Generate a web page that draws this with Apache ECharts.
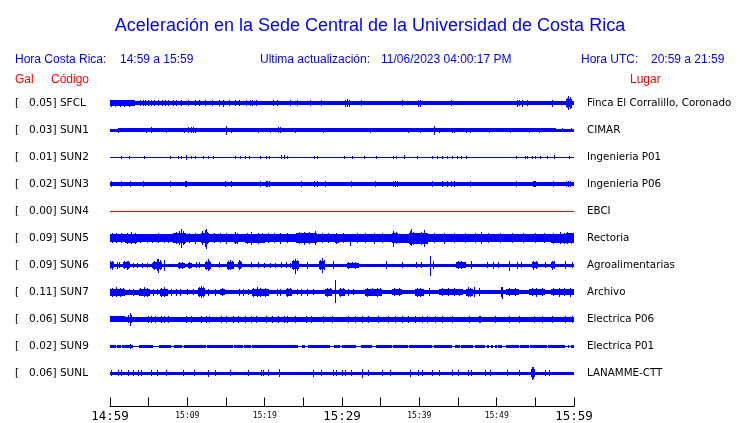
<!DOCTYPE html>
<html><head><meta charset="utf-8">
<script src="https://cdn.jsdelivr.net/npm/echarts@6/dist/echarts.min.js"></script>
<style>html,body{margin:0;padding:0;background:#fff}#c{width:740px;height:423px}</style>
</head><body><div id="c"></div>
<script>
// ---- labels ----
const stationCodes = ['SFCL','SUN1','SUN2','SUN3','SUN4','SUN5','SUN6','SUN7','SUN8','SUN9','SUNL'];
const peakGal = ['0.05','0.03','0.01','0.02','0.00','0.09','0.09','0.11','0.06','0.02','0.06'];
const siteNames = ['Finca El Corralillo, Coronado','CIMAR','Ingenieria P01','Ingenieria P06','EBCI','Rectoria','Agroalimentarias','Archivo','Electrica P06','Electrica P01','LANAMME-CTT'];
const tickLabels = ['14:59','15:04','15:09','15:14','15:19','15:24','15:29','15:34','15:39','15:44','15:49','15:54','15:59'];
const majorTickLabels = ['14:59','15:29','15:59'];
const titleText = 'Aceleración en la Sede Central de la Universidad de Costa Rica';

// ---- traces: bands [startMin, endMin, halfAmp], spikes [min, up, down?] (display units) ----
const sfclBands = [[0,60,2],[0,3.2,3],[59.0,59.8,4]];
const sfclSpikes = [[0.2,3.5],[0.7,3.5],[1.3,3.5],[1.9,3.5],[2.5,3.5],[4.0,3],[4.3,3],[4.6,3],[5.0,3],[5.4,3],[5.8,3],[6.25,3],[6.8,3],[7.2,3],[7.5,3],[8.2,3],[8.6,3],[9.3,3],[10.2,3],[11.0,3],[11.6,3],[12.3,3],[13.2,3],[14.2,3],[14.7,3.5],[15.4,3],[16.2,3],[16.7,3],[17.7,3],[18.2,3],[18.4,3],[19.0,3],[21.2,3],[21.7,3],[23.3,3],[24.2,3],[25.9,3],[27.4,3],[30.4,3.5],[30.65,4],[30.95,3.5],[32.5,3],[37.8,3],[39.9,3.5],[40.2,3.5],[44.1,3],[52.7,3.5],[53.0,3],[53.4,3.5],[54.0,3],[57.2,3.5],[59.1,5],[59.3,7],[59.5,6],[59.7,4.5]];

const sun1Bands = [[0,1.0,1.5],[1.0,57.7,2],[57.7,60,1.5]];
const sun1Spikes = [[1.1,2.5],[4.7,2.5],[5.4,3],[7.3,2.5],[9.6,2.5],[10.2,3],[10.5,3],[10.8,3],[11.1,2.5],[15.1,4.5],[15.7,2.5],[19.2,2.5],[20.7,2.5],[21.8,3],[22.0,3],[24.0,2.5],[27.6,2.5],[33.7,2.5],[38.6,2.5],[40.1,2.5],[42.0,4.5],[42.6,2.5],[44.3,2.5],[44.6,2.5],[46.1,2.5],[46.6,2.5],[49.1,2.5],[51.8,2.5],[54.2,2.5],[55.5,2.5],[57.5,2],[58.5,2],[59.7,2]];

const sun2Bands = [[0,60,0.5]];
const sun2Spikes = [[1.5,1.5],[2.5,1.5],[4.4,1.5],[7.8,1.5],[8.9,1.5],[9.2,1.5],[9.9,2.5],[10.6,1.5],[11.0,1.5],[12.1,1.5],[12.7,1.5],[13.4,1.5],[16.2,1.5],[16.9,1.5],[17.5,1.5],[18.0,1.5],[19.4,1.5],[20.3,1.5],[20.6,1.5],[22.2,2],[22.5,2],[22.9,1.5],[26.4,1.5],[26.8,1.5],[30.35,1.5],[31.3,1.5],[32.9,1.5],[34.5,1.5],[36.7,1.5],[37.0,1.5],[38.1,2],[39.8,1.5],[41.7,1.5],[42.3,1.5],[43.0,1.5],[43.6,1.5],[44.3,1.5],[44.9,1.5],[45.5,1.5],[46.1,1.5],[52.55,1.5],[53.7,1.5],[54.0,1.5],[54.6,1.5],[55.05,1.5],[55.7,1.5],[56.55,1.5],[57.5,2],[59.4,1.5]];

const sun3Bands = [[0,60,2]];
const sun3Spikes = [[0.2,3],[1.5,3],[2.6,3],[4.3,3],[7.8,3],[9.7,3],[9.9,3],[14.9,3],[15.7,3],[19.4,3],[20.2,3],[20.4,3],[20.6,3],[24.8,3],[26.5,3],[26.8,3],[27.9,3],[31.2,3],[34.3,3],[36.6,3],[36.9,3],[37.2,3],[41.7,3],[43.0,3],[43.6,3],[44.1,3],[44.5,3],[46.6,3],[52.55,3],[54.7,3],[54.9,3],[55.05,3],[57.4,3],[59.0,3],[59.3,3],[59.6,3]];

const sun4Bands = [[0,60,0.5]];
const sun4Spikes = [];

const sun5Bands = [[0,60,3.5],[0,2,4],[2,3.5,4.5],[3.5,8.2,4],[8.2,9.8,5],[9.8,11.8,4],[11.8,12.8,5],[12.8,16,4],[16,16.6,4.5],[16.6,17.5,4],[17.5,20,4.5],[20,24,4],[24,26.8,5],[26.8,29.1,4],[29.1,29.6,4.5],[29.6,36.5,4],[36.5,37.3,5],[37.3,38.6,4.5],[38.6,39.5,5.5],[39.5,41.1,5.5],[41.1,57,4],[57,59,4.5],[59,60,5]];
const sun5Spikes = [[0.3,5],[0.9,5],[1.5,5],[2.2,5.5],[2.8,6],[3.3,5.5],[4.0,4.5],[4.8,4.5],[5.5,4.5],[6.3,5],[7.0,4.5],[7.6,4.5],[8.6,6],[9.0,7],[9.27,9,10],[9.45,7],[9.6,5.5],[10.3,5],[11.0,5.5],[12.0,7],[12.3,8,9],[12.45,9,11],[12.6,6],[13.5,5],[14.3,5],[15.0,5.5],[16.2,6],[16.5,5.5],[17.8,5.5],[18.3,6.5],[19.2,5.5],[19.7,5],[20.5,5],[21.3,5],[22.0,5.5],[23.0,5],[24.5,6],[25.2,6.5],[25.8,6],[26.6,7],[27.5,5],[28.3,5],[29.3,5.5],[30.2,5],[31.1,4.5,7.5],[32.0,5],[33.0,5],[34.2,5.5],[35.3,5],[36.7,7,9],[37.0,6],[38.8,7],[39.05,9,8],[39.3,6.5],[40.3,6.5],[40.7,8,9],[42.0,5],[43.2,5.5],[44.5,5],[46.0,5],[47.2,5],[48.0,6],[49.0,5],[50.5,5],[52.0,5],[53.5,5],[55.0,5],[56.2,5],[57.4,5.5],[58.2,6],[58.8,5.5],[59.2,6],[59.7,5.5]];

const sun6Bands = [[0,60,1.5],[0,0.5,3],[1.7,2.6,3],[5.6,6.7,3.5],[8.8,9.7,2.5],[10.1,10.6,2.5],[12.3,13.1,3.5],[15.1,16.0,3.5],[16.6,17.1,3],[23.5,24.4,4],[27.0,27.8,4],[30.6,32.2,2.5],[44.7,46.0,3],[54.6,55.3,3],[57.0,57.6,3]];
const sun6Spikes = [[0.1,4],[0.3,4.5],[1.0,3.5],[1.2,3],[1.9,4],[2.2,4.5],[2.4,4],[3.0,2.5],[3.6,2.5],[4.2,2.5],[4.9,2.5],[5.5,2.5],[5.8,4.5],[6.1,6],[6.25,6,8],[6.5,5],[7.1,5,6],[9.0,3.5],[9.4,3.5],[10.3,3.5],[11.2,3],[11.6,3],[12.5,4.5],[12.7,6],[12.9,4.5],[14.2,3],[15.3,4.5],[15.6,5],[15.8,4],[16.7,5],[16.9,4],[18.3,3],[19.2,3],[20.0,2.5],[20.7,2.5],[21.4,2.5],[22.2,3],[22.8,3],[23.3,2.5],[23.7,5],[23.97,6.5,8.5],[24.2,5.5],[25.5,3.5],[27.2,5],[27.5,7.5,7.5],[27.7,5],[28.9,4],[30.9,3.5],[31.3,3],[31.8,3.5],[35.8,4],[37.8,3],[39.6,3],[40.3,3],[41.4,9,11],[41.8,4],[45.0,4],[45.5,4],[46.8,4],[48.8,3],[49.6,3.5],[50.3,3],[51.7,4,6],[52.7,3.5],[53.2,3],[54.8,4.5],[55.1,4],[56.3,3],[57.2,4.5],[57.5,4],[58.9,4],[59.8,3]];

const sun7Bands = [[0,60,2],[0,2,3.5],[2,3.7,2.5],[3.7,5.2,3.5],[6.5,7.5,3.5],[11.4,12.3,4],[14.2,14.9,3],[18.3,20.5,3.5],[22.7,23.5,3.5],[27.8,28.7,3.5],[29.6,30.4,3.5],[33,35.2,3.5],[36.5,37.8,3],[39.5,40.6,3.5],[42.6,45.6,3],[46,46.9,3.5],[51.2,52.9,3],[54.2,56.3,3],[57,60,3]];
const sun7Spikes = [[0.3,4.5],[0.8,5],[1.3,4.5],[1.7,4],[2.5,3],[3.1,3.5],[4.0,4],[4.4,5],[4.9,4.5],[5.6,3.5],[6.2,3],[6.7,4.5],[7.1,5],[8.0,3.5],[8.6,3.5],[9.1,3.5],[10.0,3],[10.8,3],[11.6,5],[11.85,6],[12.1,5],[12.8,3.5],[13.6,3.5],[14.5,4],[16.7,3.5],[17.3,3.5],[17.9,3],[18.6,4.5],[19.1,5],[19.5,4.5],[20.1,4.5],[21.6,3.5],[22.0,3.5],[23.0,4.5],[23.3,4],[24.2,3],[24.8,3.5],[25.5,3.5],[26.3,3],[28.1,4.5],[28.5,4],[29.14,12,11],[29.8,4.5],[30.2,4],[30.9,3.5],[31.5,3],[33.3,4.5],[33.9,4],[34.6,4.5],[35.0,4],[36.8,4],[37.4,4],[39.8,4.5],[40.2,4.5],[41.3,4],[43.0,4],[43.8,4],[44.5,4],[45.2,3.5],[46.3,5],[46.6,4.5],[47.1,5],[47.8,4],[50.6,5],[50.8,5,6.5],[51.6,4],[52.4,4],[54.6,4],[55.2,4.5],[55.9,4],[57.4,4],[58.1,4.5],[58.8,4],[59.5,4.5]];

const sun8Bands = [[0,60,2.5],[0,2,3]];
const sun8Spikes = [[2.4,4],[2.6,6,7],[2.8,4],[4.95,3.5],[5.39,3.5],[5.82,3.5],[6.68,3.5],[7.11,3.5],[7.54,3.5],[9.91,3.5],[10.56,3.5],[11.85,3.5],[12.5,3.5],[12.93,3.5],[14.44,3.5],[15.09,3.5],[15.95,3.5],[16.6,3.5],[17.46,3.5],[18.32,3.5],[18.97,3.5],[20.3,3.5],[20.95,3.5],[21.81,3.5],[22.59,3.5],[22.89,3.5],[23.97,3.5],[25.47,3.5],[26.12,3.5],[27.63,3.5],[28.71,3.5],[30.86,3.5],[31.73,3.5],[32.59,3.5],[33.45,3.5],[34.74,3.5],[36.04,3.5],[36.9,3.5],[37.76,3.5],[38.62,3.5],[39.49,3.5],[40.4,3.5],[41.04,3.5],[42.1,3.5],[42.98,3.5],[44.27,3.5],[46.43,3.5],[47.72,3.5],[47.93,3.5],[49.87,3.5],[51.6,3.5],[52.89,3.5],[54.83,3.5],[55.91,3.5],[57.2,3.5],[58.93,3.5],[59.79,3.5]];

const sun9Bands = [[0,60,0.5],[0,0.8,1.5],[0.95,1.45,1.5],[1.6,2.95,1.5],[3.7,5.55,1.5],[6.3,7.95,1.5],[8.25,9.3,1.5],[9.6,12.4,1.5],[12.6,15.9,1.5],[16.05,17.2,1.5],[17.35,18.25,1.5],[18.4,24.35,1.5],[24.85,25.25,1.5],[25.55,28.45,1.5],[28.95,29.75,1.5],[30.05,31.85,1.5],[32.45,33.85,1.5],[34.35,36.45,1.5],[36.6,38.55,1.5],[38.7,41.65,1.5],[41.95,44.25,1.5],[44.55,45.3,1.5],[45.45,47.0,1.5],[47.15,48.55,1.5],[48.8,49.0,1.5],[49.3,49.5,1.5],[49.8,50.0,1.5],[50.15,50.65,1.5],[51.25,52.85,1.5],[53.0,54.15,1.5],[54.3,56.5,1.5],[56.65,58.85,1.5],[59.2,59.4,1.5],[59.65,60,1.5]];
const sun9Spikes = [[2.6,2.5]];

const sunlBands = [[0,60,1.5]];
const sunlSpikes = [[0.13,3],[1.08,3],[1.51,3],[2.37,3],[3.02,3],[3.66,3],[4.1,3],[5.39,3],[6.16,3],[7.33,3],[9.48,3],[10.99,3],[12.8,3.5,4],[13.58,3],[15.52,3],[17.89,3],[19.61,3],[19.9,3],[20.5,3],[21.9,4],[26.3,3.5],[27.4,3],[28.9,3],[29.35,3],[30.0,3],[30.4,3],[31.2,3],[32.6,4,4.5],[33.45,3],[35.2,3],[36.25,3],[38.8,3.5],[39.9,3],[40.4,3],[41.7,3],[42.55,3],[44.27,3],[45.1,3],[46.4,3],[46.8,3],[48.6,3],[49.2,3],[51.4,3],[52.9,3],[54.45,4],[54.6,6.5],[54.75,6],[54.9,4],[56.3,3],[56.8,3]];

const traceBands = [sfclBands, sun1Bands, sun2Bands, sun3Bands, sun4Bands, sun5Bands, sun6Bands, sun7Bands, sun8Bands, sun9Bands, sunlBands];
const traceSpikes = [sfclSpikes, sun1Spikes, sun2Spikes, sun3Spikes, sun4Spikes, sun5Spikes, sun6Spikes, sun7Spikes, sun8Spikes, sun9Spikes, sunlSpikes];

// ---- styling ----
const ROW = 27;
const BLUE = '#0000ff';
const RED = '#ff0000';
const traceColors = stationCodes.map(c => c === 'SUN4' ? RED : BLUE);

const data = [];
traceBands.forEach((bands, r) => {
  bands.forEach(b => data.push([b[0], b[1], r * ROW, b[2], b[2], 0, r]));
});
traceSpikes.forEach((sp, r) => {
  sp.forEach(s => data.push([s[0], s[0], r * ROW, s[1], s.length > 2 ? s[2] : s[1], 1, r]));
});

function renderItem(params, api) {
  const t0 = api.value(0), t1 = api.value(1), yb = api.value(2);
  const up = api.value(3), dn = api.value(4), kind = api.value(5), r = api.value(6);
  const pTop = api.coord([t0, yb - up]);
  const pBot = api.coord([t1, yb + dn]);
  let x0, w;
  if (kind === 1) { x0 = Math.round(pTop[0] - 0.5); w = 1; }
  else { x0 = Math.round(pTop[0]); w = Math.max(1, Math.round(pBot[0]) - x0); }
  const y0 = Math.round(pTop[1]);
  const h = Math.max(1, Math.round(pBot[1]) - y0);
  return { type: 'rect', shape: { x: x0, y: y0, width: w, height: h }, style: { fill: traceColors[r] } };
}

const leftLabels = stationCodes.map((c, i) => '[   ' + peakGal[i] + '] ' + c);
const chart = echarts.init(document.getElementById('c'), null, { renderer: 'canvas' });
const hdr = 'Liberation Sans';
function txt(text, x, y, color, size) {
  return { type: 'text', x: x, y: y, style: { text: text, fill: color, font: size + 'px "' + hdr + '"', verticalAlign: 'middle', align: 'left' } };
}
chart.setOption({
  animation: false,
  backgroundColor: '#fff',
  title: { text: titleText, left: 'center', top: 12, textStyle: { color: BLUE, fontFamily: hdr, fontSize: 18, fontWeight: 'normal' } },
  graphic: [
    txt('Hora Costa Rica:', 15, 60, BLUE, 12),
    txt('14:59 a 15:59', 120, 60, BLUE, 12),
    txt('Ultima actualización:', 260, 60, BLUE, 12),
    txt('11/06/2023 04:00:17 PM', 381, 60, BLUE, 12),
    txt('Hora UTC:', 581, 60, BLUE, 12),
    txt('20:59 a 21:59', 651, 60, BLUE, 12),
    txt('Gal', 15, 80, RED, 12),
    txt('Código', 51, 80, RED, 12),
    txt('Lugar', 630, 80, RED, 12)
  ],
  grid: [
    { left: 110, right: 166, top: 89.5, height: 297 },
    { left: 110, right: 166, top: 400, height: 9 }
  ],
  xAxis: [
    { gridIndex: 0, type: 'value', min: 0, max: 60, show: false },
    { gridIndex: 1, type: 'value', min: 0, max: 60, interval: 5,
      axisLine: { show: true, lineStyle: { color: '#000', width: 1 } },
      axisTick: { show: true, inside: true, length: 9, lineStyle: { color: '#000', width: 1 } },
      splitLine: { show: false },
      axisLabel: { show: true, margin: 3, showMinLabel: true, showMaxLabel: true,
        formatter: function (v) {
          const i = Math.round(v / 5);
          if (i % 2 !== 0) return '';
          const l = tickLabels[i];
          return majorTickLabels.indexOf(l) >= 0 ? '{big|' + l + '}' : '{small|' + l + '}';
        },
        rich: {
          big: { fontFamily: 'DejaVu Sans Mono', fontSize: 12.5, color: '#000', lineHeight: 14 },
          small: { fontFamily: 'DejaVu Sans Mono', fontSize: 8, color: '#000', lineHeight: 12 }
        }
      }
    }
  ],
  yAxis: [
    { gridIndex: 0, type: 'category', inverse: true, position: 'left', data: leftLabels,
      axisLine: { show: false }, axisTick: { show: false }, splitLine: { show: false },
      axisLabel: { interval: 0, align: 'left', margin: 95, color: '#000', fontFamily: 'DejaVu Sans', fontSize: 10.5 } },
    { gridIndex: 0, type: 'category', inverse: true, position: 'right', data: siteNames,
      axisLine: { show: false }, axisTick: { show: false }, splitLine: { show: false },
      axisLabel: { interval: 0, align: 'left', margin: 13, color: '#000', fontFamily: 'DejaVu Sans', fontSize: 10.3 } },
    { gridIndex: 0, type: 'value', inverse: true, min: -ROW / 2, max: ROW * 10.5, show: false },
    { gridIndex: 1, type: 'value', min: 0, max: 1, show: false }
  ],
  series: [{
    type: 'custom', xAxisIndex: 0, yAxisIndex: 2, renderItem: renderItem, data: data,
    clip: false, silent: true
  }]
});
</script></body></html>
